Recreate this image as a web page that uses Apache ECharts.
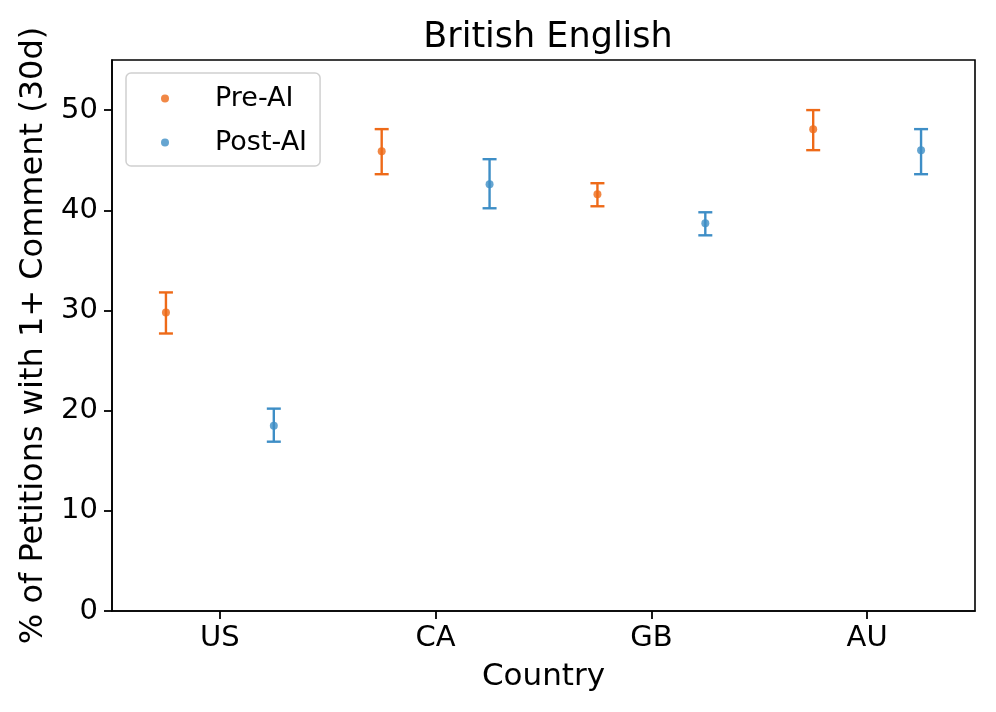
<!DOCTYPE html>
<html>
<head>
<meta charset="utf-8">
<script src="https://cdn.jsdelivr.net/npm/echarts@6/dist/echarts.min.js"></script>
<style>
  html, body { margin: 0; padding: 0; background: #fff; }
  #chart { width: 996px; height: 712px; }
</style>
</head>
<body>
<div id="chart"></div>
<script>
// countries on the x axis
const countries = ['US', 'CA', 'GB', 'AU']
// Pre-AI: mean and error bar ends
const preMean = [29.8, 45.9, 41.6, 48.1]
const preLow = [27.7, 43.6, 40.4, 46.0]
const preHigh = [31.8, 48.1, 42.7, 50.0]
// Post-AI: mean and error bar ends
const postMean = [18.5, 42.6, 38.7, 46.0]
const postLow = [16.9, 40.2, 37.5, 43.6]
const postHigh = [20.2, 45.1, 39.8, 48.1]
const yTicks = [0, 10, 20, 30, 40, 50]

const font = 'DejaVu Sans'
const orange = '#EE6A18'
const blue = '#3E8EC6'

// hidden value axis runs 0.5..4.5 (category i sits at i + 1),
// each group dodged a quarter category left / right
const shift = 0.25
const pts = (mean, d) => mean.map((v, i) => [i + 1 + d, v])
const bars = (low, high, d) => low.map((v, i) => [i + 1 + d, v, high[i]])

const errorBar = (color) => (params, api) => {
  const x = api.value(0)
  const top = api.coord([x, api.value(2)])
  const bot = api.coord([x, api.value(1)])
  const half = 7
  const style = { stroke: color, lineWidth: 2.4 }
  return {
    type: 'group',
    children: [
      { type: 'line', shape: { x1: top[0], y1: top[1], x2: bot[0], y2: bot[1] }, style },
      { type: 'line', shape: { x1: top[0] - half, y1: top[1], x2: top[0] + half, y2: top[1] }, style },
      { type: 'line', shape: { x1: bot[0] - half, y1: bot[1], x2: bot[0] + half, y2: bot[1] }, style }
    ]
  }
}

const chart = echarts.init(document.getElementById('chart'))
const option = {
  animation: false,
  textStyle: { fontFamily: font },
  title: {
    text: 'British English',
    left: 543,
    textAlign: 'center',
    top: 15,
    textStyle: { fontFamily: font, fontSize: 35, fontWeight: 'normal', color: '#000' }
  },
  legend: {
    data: ['Pre-AI', 'Post-AI'],
    orient: 'vertical',
    left: 126,
    top: 73,
    padding: [12, 13, 10, 35],
    itemWidth: 8,
    itemHeight: 8,
    itemGap: 17,
    icon: 'circle',
    borderColor: '#d0d0d0',
    borderWidth: 1.5,
    borderRadius: 5,
    textStyle: { fontFamily: font, fontSize: 27, color: '#000', padding: [0, 0, 0, 41] }
  },
  grid: {
    left: 112,
    right: 21,
    top: 60,
    bottom: 101,
    show: true,
    borderColor: '#000',
    borderWidth: 1.6
  },
  xAxis: [
    {
      type: 'category',
      data: countries,
      boundaryGap: true,
      name: 'Country',
      nameLocation: 'middle',
      nameGap: 50,
      nameTextStyle: { fontFamily: font, fontSize: 31, color: '#000' },
      axisLine: { lineStyle: { color: '#000', width: 1.6 } },
      axisTick: { show: true, alignWithLabel: true, length: 8, lineStyle: { color: '#000', width: 1.8 } },
      axisLabel: { fontFamily: font, fontSize: 29, color: '#000', margin: 13 },
      splitLine: { show: false }
    },
    {
      type: 'value',
      min: 0.5,
      max: 4.5,
      show: false
    }
  ],
  yAxis: {
    type: 'value',
    min: 0,
    max: 55,
    name: '% of Petitions with 1+ Comment (30d)',
    nameLocation: 'middle',
    nameGap: 62,
    nameTextStyle: { fontFamily: font, fontSize: 32, color: '#000' },
    axisLine: { show: true, lineStyle: { color: '#000', width: 1.6 } },
    axisTick: { show: true, length: 8, customValues: yTicks, lineStyle: { color: '#000', width: 1.8 } },
    axisLabel: { fontFamily: font, fontSize: 29, color: '#000', margin: 14, customValues: yTicks },
    splitLine: { show: false }
  },
  series: [
    {
      type: 'custom',
      xAxisIndex: 1,
      renderItem: errorBar(orange),
      data: bars(preLow, preHigh, -shift),
      z: 2
    },
    {
      type: 'custom',
      xAxisIndex: 1,
      renderItem: errorBar(blue),
      data: bars(postLow, postHigh, shift),
      z: 2
    },
    {
      name: 'Pre-AI',
      type: 'scatter',
      xAxisIndex: 1,
      symbolSize: 8,
      itemStyle: { color: orange },
      data: pts(preMean, -shift),
      z: 3
    },
    {
      name: 'Post-AI',
      type: 'scatter',
      xAxisIndex: 1,
      symbolSize: 8,
      itemStyle: { color: blue },
      data: pts(postMean, shift),
      z: 3
    }
  ]
}
chart.setOption(option)
</script>
</body>
</html>
